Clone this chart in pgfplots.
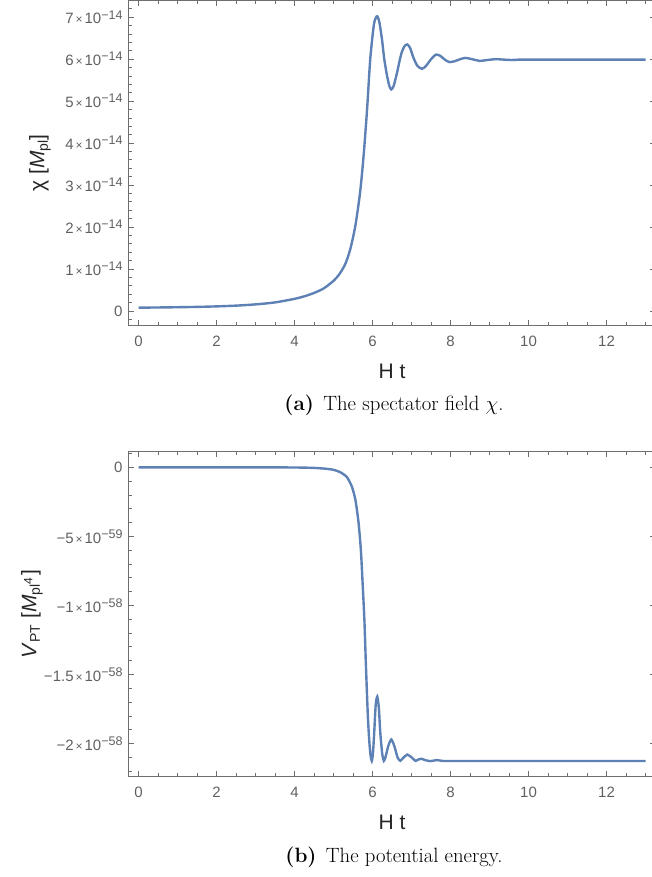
\documentclass[border=0pt]{standalone}
\usepackage{fontspec}
\usepackage{pgfplots}
\pgfplotsset{compat=1.18}
\newfontfamily\mma{Liberation Sans}
\definecolor{mblue}{HTML}{5E81B5}
\definecolor{fgray}{HTML}{6E6E6E}
\definecolor{lgray}{HTML}{606060}
\newcommand{\sci}[2]{#1{\fontsize{12bp}{12bp}\selectfont\,×\,}10\raisebox{4.8bp}{\fontsize{12.5bp}{13bp}\selectfont #2}}
\newcommand{\labfont}{\mma\fontsize{21bp}{25bp}\selectfont\color{black!85}}
\pgfplotsset{
  mmastyle/.style={
    scale only axis, width=527.4bp, height=325.5bp,
    xmin=-0.264, xmax=13.26,
    xtick={0,2,4,6,8,10,12}, xticklabels={0,2,4,6,8,10,12},
    minor xtick={0,0.5,...,13},
    tick align=inside, major tick length=6bp, minor tick length=3.5bp,
    axis line style={fgray, line width=0.9bp},
    every tick/.style={fgray, line width=0.8bp},
    every minor tick/.style={fgray, line width=0.8bp},
    tick label style={font=\mma\fontsize{15bp}{18bp}\selectfont, text=lgray},
    xticklabel style={inner sep=0pt, anchor=north, yshift=-10.6bp},
    yticklabel style={inner sep=0pt, anchor=east, xshift=-5.6bp},
    xlabel={H t},
    every axis x label/.style={at={(axis description cs:0.5,0)}, anchor=center, yshift=-46bp, font=\labfont},
    clip=true,
  }
}
\begin{document}
\begin{tikzpicture}
\path[use as bounding box] (0,0) rectangle (652bp,877bp);
% ---------------- top panel
\begin{axis}[mmastyle,
  at={(128.3bp,551.3bp)}, anchor=south west,
  ymin=-0.35, ymax=7.405,
  ytick={0,1,2,3,4,5,6,7},
  yticklabels={0,\sci{1}{−14},\sci{2}{−14},\sci{3}{−14},\sci{4}{−14},\sci{5}{−14},\sci{6}{−14},\sci{7}{−14}},
  minor ytick={-0.2,0,0.2,...,7.4},
  ylabel={χ [\textit{M}\raisebox{-3.5bp}{\fontsize{14bp}{14bp}\selectfont pl}]},
  every axis y label/.style={at={(axis description cs:-0.1674,0.5)}, rotate=90, anchor=center, font=\labfont},
]
\addplot[mblue, line width=2.4bp, smooth, tension=0.45] table {
t v
0 0.08
0.5 0.084
1 0.09
1.5 0.098
2 0.11
2.5 0.128
3 0.158
3.5 0.205
4 0.29
4.25 0.35
4.5 0.43
4.75 0.54
5.0 0.72
5.15 0.88
5.3 1.12
5.43 1.48
5.56 2.04
5.68 2.83
5.77 3.70
5.86 4.82
5.94 6.0
6.03 6.80
6.08 6.98
6.12 7.02
6.17 6.90
6.24 6.48
6.30 6.0
6.37 5.61
6.43 5.36
6.48 5.28
6.54 5.36
6.63 5.69
6.69 5.95
6.75 6.17
6.82 6.31
6.89 6.35
6.96 6.27
7.05 6.03
7.15 5.84
7.27 5.77
7.38 5.85
7.5 6.0
7.63 6.11
7.75 6.07
7.85 5.99
7.97 5.93
8.1 5.95
8.25 6.0
8.38 6.03
8.55 6.0
8.74 5.96
8.95 5.98
9.15 6.0
9.35 5.99
9.55 5.98
9.8 5.99
10 5.99
10.5 5.99
11 5.99
12 5.99
13 5.99
};
\end{axis}
\node[anchor=base, font=\fontsize{20.7bp}{25bp}\selectfont] at (394bp,466bp) {\textbf{(a)}\hspace{0.45em}The spectator field $\chi$.};
% ---------------- bottom panel
\begin{axis}[mmastyle,
  at={(128.3bp,100.3bp)}, anchor=south west,
  ymin=-2.24, ymax=0.117,
  ytick={-2,-1.5,-1,-0.5,0},
  yticklabels={−\sci{2}{−58},−\sci{1.5}{−58},−\sci{1}{−58},−\sci{5}{−59},0},
  minor ytick={-2.2,-2.1,...,0.1},
  ylabel={\textit{V}\raisebox{-3.5bp}{\fontsize{14bp}{14bp}\selectfont PT} [\textit{M}\raisebox{-3.5bp}{\fontsize{14bp}{14bp}\selectfont pl}\raisebox{4bp}{\fontsize{12bp}{12bp}\selectfont 4}\hspace{0.1em}]},
  every axis y label/.style={at={(axis description cs:-0.1826,0.5)}, rotate=90, anchor=center, font=\labfont},
]
\addplot[mblue, line width=2.4bp, smooth, tension=0.4] table {
t v
0 0
1 0
2 0
3 0
4 -0.001
4.5 -0.004
4.8 -0.01
5.0 -0.018
5.17 -0.035
5.34 -0.07
5.47 -0.14
5.56 -0.236
5.64 -0.40
5.70 -0.60
5.74 -0.815
5.79 -1.105
5.83 -1.44
5.88 -1.81
5.92 -2.0
5.95 -2.09
5.98 -2.125
6.01 -2.07
6.04 -1.93
6.08 -1.72
6.12 -1.66
6.16 -1.74
6.20 -1.93
6.25 -2.08
6.29 -2.125
6.33 -2.10
6.40 -2.02
6.48 -1.97
6.56 -2.02
6.64 -2.10
6.71 -2.125
6.78 -2.105
6.89 -2.08
7.0 -2.10
7.10 -2.125
7.18 -2.115
7.25 -2.11
7.35 -2.12
7.48 -2.127
7.65 -2.12
7.8 -2.126
8 -2.126
9 -2.126
10 -2.126
11 -2.126
12 -2.126
13 -2.126
};
\end{axis}
\node[anchor=base, font=\fontsize{20.7bp}{25bp}\selectfont] at (394bp,14.5bp) {\textbf{(b)}\hspace{0.45em}The potential energy.};
\end{tikzpicture}
\end{document}
